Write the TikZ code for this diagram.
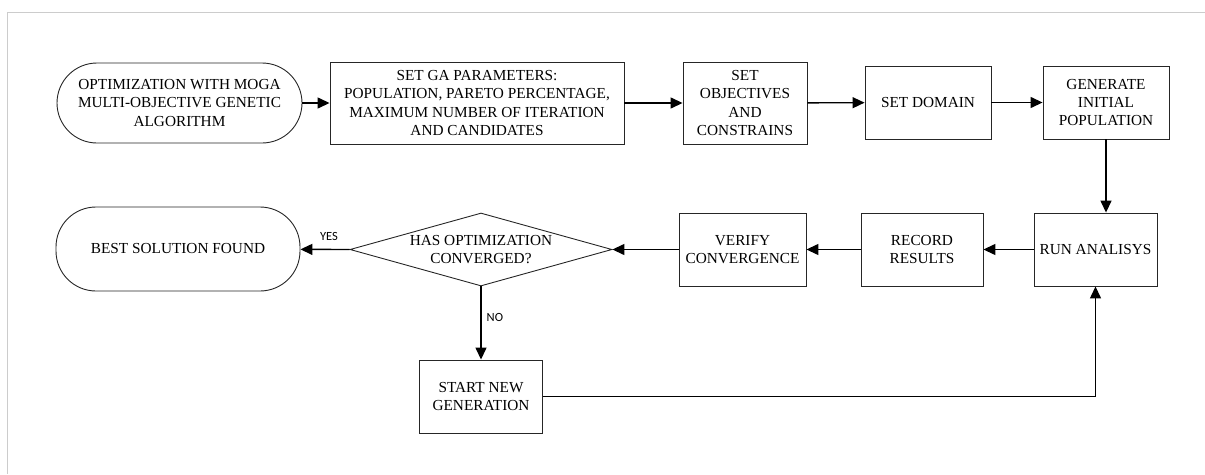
\documentclass[tikz,border=0pt]{standalone}
\usepackage{fontspec}
\setmainfont{Liberation Serif}
\newfontfamily\answerfont{Carlito}
\usetikzlibrary{shapes.geometric,arrows.meta}

\begin{document}
\begin{tikzpicture}[
	x = 1pt, y = -1pt,
	every node/.style = {font = \fontsize{15.3}{18.3}\selectfont},
	box/.style = {draw = black!85, line width = 0.9pt, align = center, inner sep = 0pt, minimum height = 73pt},
	terminal/.style = {box, rounded corners = 40pt},
	decision/.style = {diamond, draw = black!85, line width = 0.9pt, inner sep = 0pt,
		minimum width = 262pt, minimum height = 73pt, aspect = 3.6},
	flow/.style = {-{Triangle[length=12pt,width=11pt]}, line width = 1.4pt},
	answer/.style = {font = \answerfont\fontsize{12.5}{14}\selectfont, inner sep = 2pt},
	]

	\useasboundingbox (0,0) rectangle (1205,474);
	\draw[black!20, line width = 1pt] (7,474) -- (7,12.3) -- (1205,12.3);

	\node[terminal, minimum width = 245pt, minimum height = 80pt] (start) at (179.5,103) {OPTIMIZATION WITH MOGA\\MULTI-OBJECTIVE GENETIC\\ALGORITHM};
	\node[box, minimum width = 294pt, minimum height = 82pt] (param) at (477,103) {SET GA PARAMETERS:\\POPULATION, PARETO PERCENTAGE,\\MAXIMUM NUMBER OF ITERATION\\AND CANDIDATES};
	\node[box, minimum width = 124pt, minimum height = 82pt] (objective) at (745,103) {SET\\OBJECTIVES\\AND\\CONSTRAINS};
	\node[box, minimum width = 126pt] (domain) at (928,102.5) {SET DOMAIN};
	\node[box, minimum width = 126pt] (initial) at (1106,102.5) {GENERATE\\INITIAL\\POPULATION};

	\node[box, minimum width = 123pt] (analysis) at (1095.5,249.5) {RUN ANALISYS};
	\node[box, minimum width = 122pt] (record) at (922,249.5) {RECORD\\RESULTS};
	\node[box, minimum width = 127pt] (verify) at (742.5,249.5) {VERIFY\\CONVERGENCE};
	\node[decision, label = {[align = center]center:HAS OPTIMIZATION\\CONVERGED?}] (converged) at (481,249.5) {};
	\node[terminal, minimum width = 244pt, minimum height = 84pt] (best) at (178,249) {BEST SOLUTION FOUND};
	\node[box, minimum width = 123pt] (newgen) at (481,396.5) {START NEW\\GENERATION};

	\draw[flow] (start) -- (param);
	\draw[flow] (param) -- (objective);
	\draw[flow] (objective) -- (domain);
	\draw[flow] (domain) -- (initial);
	\draw[flow] (initial) -- (initial |- analysis.north);
	\draw[flow] (analysis) -- (record);
	\draw[flow] (record) -- (verify);
	\draw[flow] (verify) -- (converged.east);
	\draw[flow] (converged.west) -- node[answer, above = 6pt, pos = 0.42] (yes) {YES} (best);
	\draw[flow] (converged.south) -- node[answer, right = 3pt, pos = 0.42] (no) {NO} (newgen);
	\draw[flow] (newgen.east) -| (analysis.south);

\end{tikzpicture}
\end{document}
